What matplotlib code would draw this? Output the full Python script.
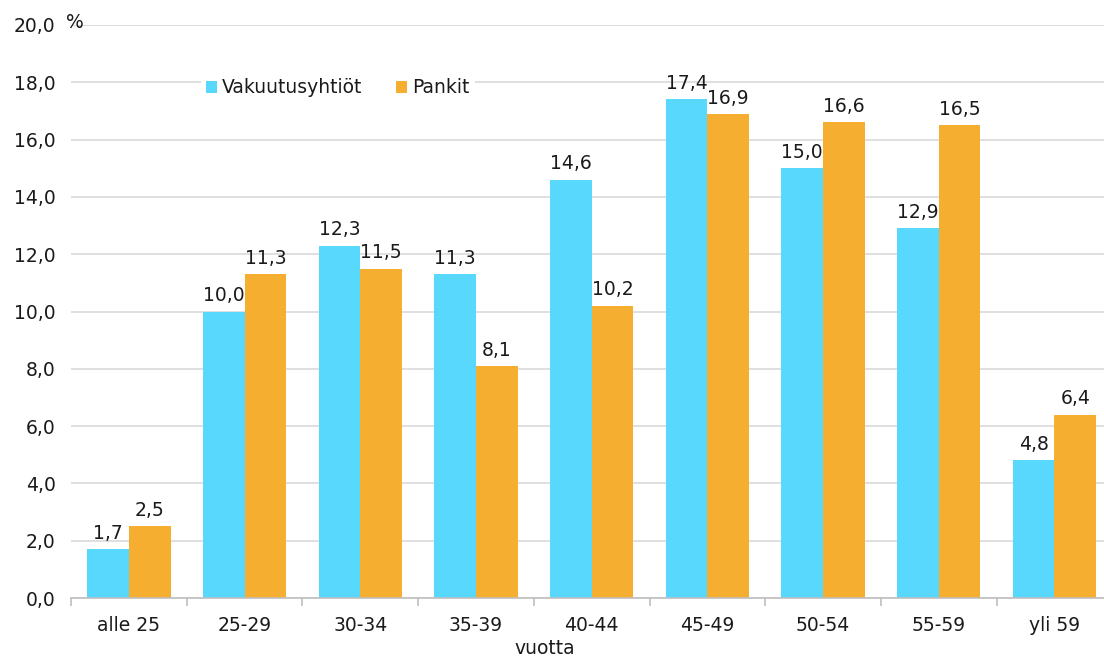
import matplotlib
matplotlib.use("Agg")
import matplotlib.pyplot as plt
import numpy as np

categories = ["alle 25", "25-29", "30-34", "35-39", "40-44", "45-49", "50-54", "55-59", "yli 59"]
vakuutus = [1.7, 10.0, 12.3, 11.3, 14.6, 17.4, 15.0, 12.9, 4.8]
pankit = [2.5, 11.3, 11.5, 8.1, 10.2, 16.9, 16.6, 16.5, 6.4]
yticks = [0, 2, 4, 6, 8, 10, 12, 14, 16, 18, 20]

c_cyan = "#58D8FC"
c_orange = "#F5AE30"
txt = "#1A1A1A"
fs = 13.5

fig = plt.figure(figsize=(11.04, 6.57), dpi=100)
ax = fig.add_axes([71/1104, 1-598/657, 1041.3/1104, (598-25)/657])

x = np.arange(len(categories))
w = 0.36
b1 = ax.bar(x - w/2, vakuutus, w, color=c_cyan, label="Vakuutusyhtiöt", zorder=2)
b2 = ax.bar(x + w/2, pankit, w, color=c_orange, label="Pankit", zorder=2)

def fmt(v):
    return f"{v:.1f}".replace(".", ",")

for bars, vals in ((b1, vakuutus), (b2, pankit)):
    for r, v in zip(bars, vals):
        ax.text(r.get_x() + r.get_width()/2, v + 0.22, fmt(v), ha="center", va="bottom",
                fontsize=fs, color=txt, zorder=3)

ax.set_xlim(-0.5, len(categories) - 0.5)
ax.set_ylim(0, 20)
ax.set_yticks(yticks)
ax.set_yticklabels([fmt(v) for v in yticks], fontsize=fs, color=txt)
ax.yaxis.grid(True, color="#D9D9D9", linewidth=1.2, zorder=0)
ax.set_axisbelow(True)
ax.tick_params(axis="y", length=0, pad=11)

ax.set_xticks(x)
ax.set_xticklabels(categories, fontsize=fs, color=txt)
ax.set_xticks(np.arange(len(categories) + 1) - 0.5, minor=True)
ax.tick_params(axis="x", which="major", length=0, pad=13)
ax.tick_params(axis="x", which="minor", length=6, color="#BFBFBF", width=1.2)

for s in ("top", "right", "left"):
    ax.spines[s].set_visible(False)
ax.spines["bottom"].set_color("#BFBFBF")
ax.spines["bottom"].set_linewidth(1.2)

fig.text(66/1104, 1-22/657, "%", fontsize=fs, color=txt, ha="left", va="center")
fig.text(545/1104, 1-648/657, "vuotta", fontsize=fs, color=txt, ha="center", va="center")

leg = ax.legend(loc="center", bbox_to_anchor=((338-71)/1041.3, (598-88)/573), ncol=2,
                frameon=True, fontsize=fs, handlelength=0.55, handleheight=0.55,
                handletextpad=0.3, columnspacing=1.8, borderpad=0.3)
leg.get_frame().set_edgecolor("none")
leg.get_frame().set_facecolor("white")
leg.get_frame().set_alpha(1)
for t in leg.get_texts():
    t.set_color(txt)

fig.savefig("out.png", dpi=100)
